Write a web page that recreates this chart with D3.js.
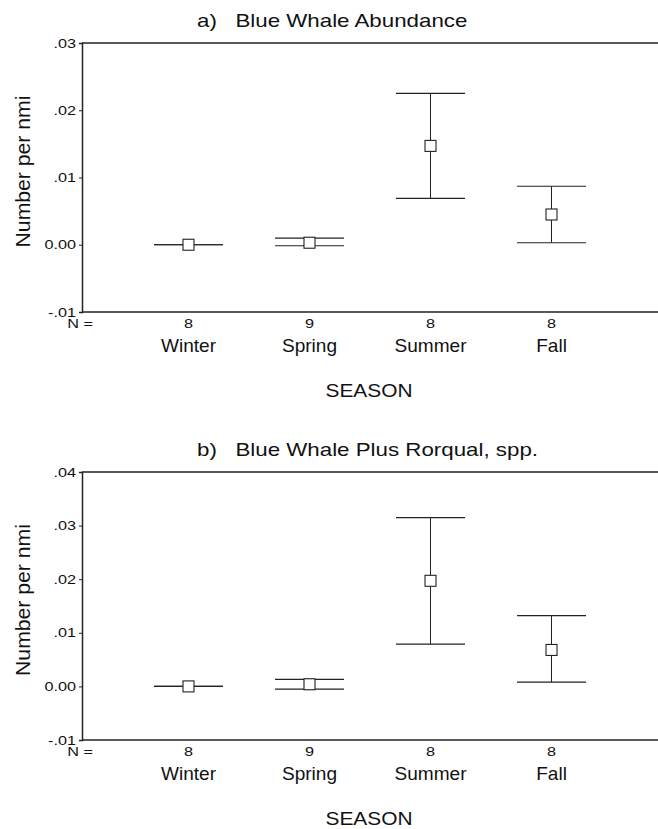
<!DOCTYPE html>
<html>
<head>
<meta charset="utf-8">
<script src="https://cdn.jsdelivr.net/npm/d3@7"></script>
<style>
  body { margin: 0; background: #fff; }
  text { font-family: "Liberation Sans", Arial, sans-serif; fill: #111; white-space: pre; }
</style>
</head>
<body>
<script>
// data
var seasons = ["Winter", "Spring", "Summer", "Fall"];
var nCounts = [8, 9, 8, 8];

// a) Blue whale abundance
var meanA = [0.0000, 0.0003, 0.0147, 0.0045];
var lowA  = [0.0000, -0.00015, 0.0069, 0.0003];
var highA = [0.0000, 0.0010, 0.0225, 0.0087];
var ticksA = [-0.01, 0, 0.01, 0.02, 0.03];
var tickLabelsA = ["-.01", "0.00", ".01", ".02", ".03"];

// b) Blue whale plus rorqual
var meanB = [0.0000, 0.0004, 0.0197, 0.0068];
var lowB  = [0.0000, -0.0005, 0.0079, 0.0008];
var highB = [0.0000, 0.0013, 0.0315, 0.0132];
var ticksB = [-0.01, 0, 0.01, 0.02, 0.03, 0.04];
var tickLabelsB = ["-.01", "0.00", ".01", ".02", ".03", ".04"];

var width = 658, height = 829;
var left = 82, right = 658;

var svg = d3.select("body").append("svg")
    .attr("width", width)
    .attr("height", height);

var x = d3.scalePoint()
    .domain(seasons)
    .range([left, right])
    .padding(0.88);

// the scanned figure is a bit wider than tall, so text gets a horizontal stretch
function label(g, tx, ty, str, size, sx, anchor) {
  return g.append("text")
      .attr("transform", "translate(" + tx + "," + ty + ") scale(" + sx + ",1)")
      .attr("text-anchor", anchor || "middle")
      .style("font-size", size + "px")
      .text(str);
}

function drawPanel(title, top, bottom, ticks, labels, mean, low, high) {
  var y = d3.scaleLinear()
      .domain([ticks[0], ticks[ticks.length - 1]])
      .range([bottom, top]);

  var g = svg.append("g");

  // title
  label(g, 197, top - 16, title, 18, 1.24, "start");

  // frame: top and bottom lines
  g.append("line")
      .attr("x1", left).attr("x2", right)
      .attr("y1", top).attr("y2", top)
      .attr("stroke", "#222").attr("stroke-width", 1.5);
  g.append("line")
      .attr("x1", left).attr("x2", right)
      .attr("y1", bottom).attr("y2", bottom)
      .attr("stroke", "#222").attr("stroke-width", 1.5);

  // y axis
  var yAxis = g.append("g")
      .attr("transform", "translate(" + left + ",0)")
      .call(d3.axisLeft(y)
        .tickValues(ticks)
        .tickSize(3)
        .tickFormat(function(d, i) { return labels[i]; }));
  yAxis.select(".domain").attr("stroke", "#222").attr("stroke-width", 1.5);
  yAxis.selectAll(".tick line").attr("stroke", "#222");
  yAxis.selectAll(".tick text")
      .attr("x", 0)
      .attr("transform", "translate(-6,0) scale(1.3,1)")
      .style("font-size", "12.5px")
      .style("font-family", "'Liberation Sans', Arial, sans-serif")
      .attr("fill", "#111");

  // y label
  g.append("text")
      .attr("transform", "translate(30," + ((top + bottom) / 2 - 6) + ") rotate(-90) scale(1.06,1.05)")
      .attr("text-anchor", "middle")
      .style("font-size", "20px")
      .text("Number per nmi");

  // N labels and seasons
  label(g, 80, bottom + 16, "N =", 12.5, 1.3);

  seasons.forEach(function(s, i) {
    label(g, x(s), bottom + 16, nCounts[i], 12.5, 1.3);
    label(g, x(s), bottom + 40, s, 18, 1.06);
  });

  label(g, 369, bottom + 85, "SEASON", 18, 1.16);

  // error bars
  var capW = 34.5, box = 11;
  var bars = g.selectAll(".bar")
      .data(seasons)
    .enter().append("g")
      .attr("class", "bar");

  bars.append("line")
      .attr("x1", function(d) { return x(d); })
      .attr("x2", function(d) { return x(d); })
      .attr("y1", function(d, i) { return y(low[i]); })
      .attr("y2", function(d, i) { return y(high[i]); })
      .attr("stroke", "#222").attr("stroke-width", 1);
  bars.append("line")
      .attr("x1", function(d) { return x(d) - capW; })
      .attr("x2", function(d) { return x(d) + capW; })
      .attr("y1", function(d, i) { return y(high[i]); })
      .attr("y2", function(d, i) { return y(high[i]); })
      .attr("stroke", "#222").attr("stroke-width", 1.2);
  bars.append("line")
      .attr("x1", function(d) { return x(d) - capW; })
      .attr("x2", function(d) { return x(d) + capW; })
      .attr("y1", function(d, i) { return y(low[i]); })
      .attr("y2", function(d, i) { return y(low[i]); })
      .attr("stroke", "#222").attr("stroke-width", 1.2);
  bars.append("rect")
      .attr("x", function(d) { return x(d) - box / 2; })
      .attr("y", function(d, i) { return y(mean[i]) - box / 2; })
      .attr("width", box).attr("height", box)
      .attr("fill", "#fff")
      .attr("stroke", "#222").attr("stroke-width", 1.1);
}

drawPanel("a)   Blue Whale Abundance", 43, 312, ticksA, tickLabelsA, meanA, lowA, highA);
drawPanel("b)   Blue Whale Plus Rorqual, spp.", 472, 740, ticksB, tickLabelsB, meanB, lowB, highB);
</script>
</body>
</html>
